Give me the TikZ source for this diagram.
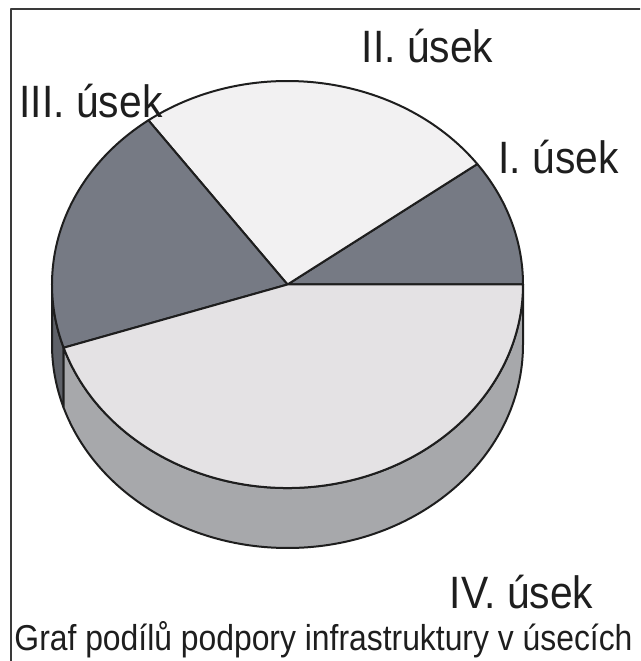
\documentclass[tikz,border=0pt]{standalone}
\usepackage{fontspec}
\setmainfont{Liberation Sans}
\definecolor{darkslice}{HTML}{767A84}
\definecolor{lightII}{HTML}{F2F1F2}
\definecolor{lightIV}{HTML}{E4E2E4}
\definecolor{sideIV}{HTML}{A7A8AB}
\definecolor{sideIII}{HTML}{5E6168}
\definecolor{ink}{HTML}{1E1E1E}
\definecolor{framec}{HTML}{3A3A3A}
\def\prx{235.5}
\def\pry{203.5}
\newcommand\topslice[3]{%
  \filldraw[slice, fill=#3] (C) -- ([shift={(#1:\prx\space and \pry)}]C)
    arc[start angle=#1, end angle=#2, x radius=\prx, y radius=\pry] -- cycle;}
\newcommand\sideslice[3]{%
  \filldraw[slice, fill=#3] ([shift={(#1:\prx\space and \pry)}]C)
    arc[start angle=#1, end angle=#2, x radius=\prx, y radius=\pry]
    -- ([shift={(#2:\prx\space and \pry)}]B)
    arc[start angle=#2, end angle=#1, x radius=\prx, y radius=\pry] -- cycle;}
\begin{document}
\begin{tikzpicture}[x=0.75pt, y=0.75pt, line join=round,
  slice/.style={draw=ink, line width=1.5pt},
  lab/.style={font=\fontsize{34}{40}\selectfont, text=ink, inner sep=0pt, anchor=base, xscale=0.9},
  capt/.style={font=\fontsize{27}{32}\selectfont, text=ink, inner sep=0pt, anchor=base, xscale=0.885}]
\useasboundingbox (0,0) rectangle (640,661);
\clip (0,0) rectangle (640,661);
\fill[white] (0,0) rectangle (640,661);
% frame (cut by the page at right and bottom)
\draw[framec, line width=1.5pt] (11,-20) -- (11,652) -- (660,652);
% pie
\coordinate (C) at (287.5,376.5);
\coordinate (B) at (287.5,316.5);
\sideslice{180}{198.1}{sideIII}
\sideslice{198.1}{360}{sideIV}
\topslice{0}{36.3}{darkslice}
\topslice{36.3}{126.2}{lightII}
\topslice{126.2}{198.1}{darkslice}
\topslice{198.1}{360}{lightIV}
% labels
\node[lab] (l2) at (427.5,598) {II. úsek};
\node[lab] (l3) at (91,543) {III. úsek};
\node[lab] (l1) at (558.5,487) {I. úsek};
\node[lab] (l4) at (521.5,52) {IV. úsek};
\node[capt] (cap) at (323.5,11) {Graf podílů podpory infrastruktury v úsecích};
\end{tikzpicture}
\end{document}
